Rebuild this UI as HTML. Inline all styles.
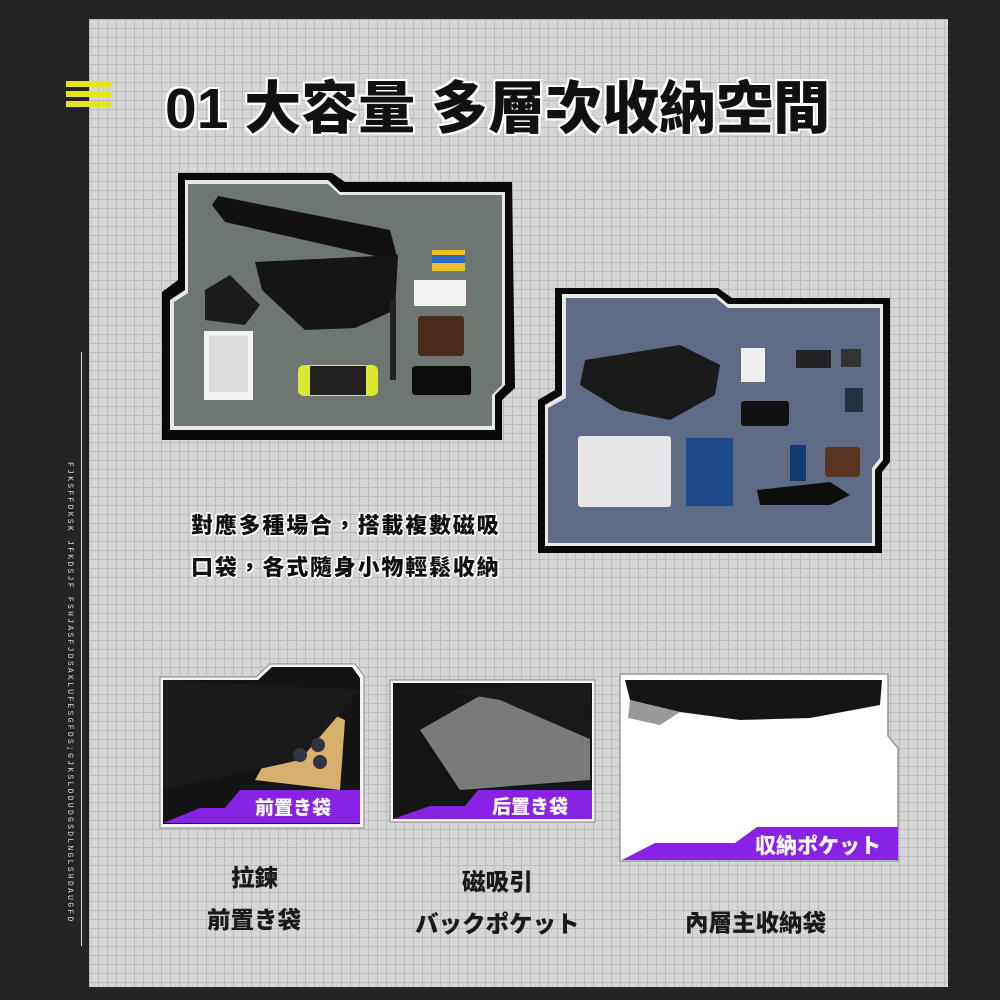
<!DOCTYPE html>
<html><head><meta charset="utf-8"><style>
body{margin:0;width:1000px;height:1000px;overflow:hidden;background:#242424;position:relative;font-family:"Liberation Sans","Noto Sans CJK TC",sans-serif}
#panel{position:absolute;left:89px;top:19px;width:859px;height:968px;background-color:#d6d6d6;
background-image:linear-gradient(#bcbcbc 1px,transparent 1px),linear-gradient(90deg,#bcbcbc 1px,transparent 1px);background-size:9px 9px}
.t{position:absolute;font-weight:900;color:#111;white-space:nowrap}
.title{left:165px;top:63px;font-size:57px;letter-spacing:0px;text-shadow:2px 0 #fff,-2px 0 #fff,0 2px #fff,0 -2px #fff,2px 2px #fff,-2px -2px #fff,2px -2px #fff,-2px 2px #fff}
.body{font-size:22px;letter-spacing:1.8px;text-shadow:1.5px 0 #fff,-1.5px 0 #fff,0 1.5px #fff,0 -1.5px #fff,1.5px 1.5px #fff,-1.5px -1.5px #fff}
.cap{font-size:23.5px;color:#1a1a1a}
.ban{position:absolute;color:#fff;font-weight:900;font-size:19px;white-space:nowrap}
#vt{position:absolute;left:58px;top:462px;transform-origin:0 0;transform:translate(16px,0) rotate(90deg);font-size:8px;color:#ddd;letter-spacing:2.3px;white-space:nowrap;font-family:"Liberation Mono",monospace}
</style></head><body>
<div id="panel"></div>
<div style="position:absolute;left:81px;top:352px;width:1px;height:594px;background:#ddd"></div>
<div id="vt">FJKSFFDKSK JFKDSJF FSHJASFJDSAKLUFESGFDS;GJKSLDDUDGSDLNGLSHDAUGFD</div>
<div style="position:absolute;left:66px;top:81px;width:45px;height:6px;background:#e5e51a"></div>
<div style="position:absolute;left:66px;top:91px;width:45px;height:6px;background:#e5e51a"></div>
<div style="position:absolute;left:66px;top:101px;width:45px;height:6px;background:#e5e51a"></div>
<svg width="1000" height="1000" style="position:absolute;left:0;top:0">
<polygon points="178,173 332,173 345,182 512,182 515,388 502,400 502,440 162,440 162,292 178,280" fill="#0a0a0a"/>
<polygon points="185,180 328,180 340,192 505,192 505,385 495,395 495,430 170,430 170,300 185,290" fill="#e8e8e8"/>
<polygon points="188,184 328,184 340,195 502,195 502,385 492,395 492,426 174,426 174,302 188,293" fill="#6d7670"/>
<path d="M212,205 L218,196 L390,230 L398,260 L392,275 L384,258 L225,222Z" fill="#111"/>
<path d="M255,262 L398,255 L395,310 L355,328 L305,330 L262,290Z" fill="#151515"/>
<path d="M205,290 L230,275 L260,305 L245,325 L205,320Z" fill="#1c1c1c"/>
<rect x="390" y="300" width="6" height="80" fill="#222"/>
<rect x="204" y="331" width="49" height="69" fill="#f2f2f2"/><rect x="209" y="336" width="39" height="56" fill="#ddd"/>
<rect x="298" y="365" width="80" height="31" rx="6" fill="#d9e830"/><rect x="310" y="366" width="56" height="29" fill="#222"/>
<rect x="414" y="280" width="52" height="26" fill="#f4f4f4"/>
<rect x="418" y="316" width="46" height="40" rx="3" fill="#4a2a1d"/>
<rect x="412" y="366" width="59" height="29" rx="3" fill="#0c0c0c"/>
<rect x="432" y="250" width="33" height="21" fill="#f0c020"/><rect x="432" y="255" width="33" height="8" fill="#2b6bc4"/>
<polygon points="555,288 718,288 732,298 890,298 890,462 882,472 882,553 538,553 538,400 555,390" fill="#0a0a0a"/>
<polygon points="562,294 716,294 728,304 883,304 883,460 875,470 875,546 545,546 545,405 562,395" fill="#e8e8e8"/>
<polygon points="566,298 716,298 728,308 880,308 880,458 872,468 872,543 548,543 548,408 566,398" fill="#5f6b85"/>
<path d="M585,360 L680,345 L720,365 L715,395 L670,420 L620,410 L580,385Z" fill="#1a1a1a"/>
<rect x="578" y="436" width="93" height="71" rx="3" fill="#e6e6e6"/>
<rect x="686" y="438" width="47" height="68" fill="#1e4a8a"/>
<rect x="741" y="348" width="24" height="34" fill="#eee"/>
<rect x="741" y="401" width="48" height="25" rx="3" fill="#111"/>
<rect x="796" y="350" width="35" height="18" fill="#222"/><rect x="841" y="349" width="20" height="18" fill="#333"/>
<rect x="825" y="447" width="35" height="30" rx="3" fill="#5a3522"/>
<path d="M757,490 L830,482 L850,495 L830,505 L760,505Z" fill="#0d0d0d"/>
<rect x="790" y="445" width="16" height="36" fill="#153a70"/>
<rect x="845" y="388" width="18" height="24" fill="#253040"/>
<polygon points="160,677 256,677 270,664 355,664 364,676 364,828 160,828" fill="#f4f4f4" stroke="#888" stroke-width="1"/>
<polygon points="163,680 258,680 272,667 352,667 360,678 360,824 163,824" fill="#141414"/>
<path d="M255,780 L300,700 L345,720 L340,790Z" fill="#d6b06c"/>
<path d="M163,680 L360,690 L300,760 L163,790Z" fill="#1a1a1a"/>
<circle cx="300" cy="755" r="7" fill="#334"/><circle cx="318" cy="745" r="7" fill="#334"/><circle cx="320" cy="762" r="7" fill="#334"/>
<polygon points="163,823 200,808 225,808 240,790 360,790 360,823" fill="#8a22e6"/>
<polygon points="390,680 595,680 595,822 390,822" fill="#f4f4f4" stroke="#888" stroke-width="1"/>
<rect x="393" y="683" width="199" height="136" fill="#151515"/>
<path d="M420,730 L490,690 L590,720 L590,780 L460,790Z" fill="#7a7a7a"/>
<path d="M440,690 L590,683 L592,740 L500,700Z" fill="#1a1a1a"/>
<polygon points="393,819 430,806 465,806 478,790 592,790 592,819" fill="#8a22e6"/>
<polygon points="620,674 888,674 888,736 898,748 898,861 620,861" fill="#fff" stroke="#999" stroke-width="1.5"/>
<path d="M625,680 L882,680 L880,705 L810,718 L740,720 L680,712 L630,700Z" fill="#151515"/>
<path d="M630,700 L680,712 L660,725 L628,718Z" fill="#999"/>
<polygon points="622,860 655,843 735,843 757,827 898,827 898,860" fill="#8a22e6"/>
</svg>
<div class="t title">01 大容量 多層次收納空間</div>
<div class="t body" style="left:191px;top:508px">對應多種場合，搭載複數磁吸</div>
<div class="t body" style="left:191px;top:550px">口袋，各式隨身小物輕鬆收納</div>
<div class="ban" style="left:255px;top:793px">前置き袋</div>
<div class="ban" style="left:492px;top:792px">后置き袋</div>
<div class="ban" style="left:755px;top:830px;font-size:21px">収納ポケット</div>
<div class="t cap" style="left:231px;top:859px">拉鍊</div>
<div class="t cap" style="left:207px;top:901px">前置き袋</div>
<div class="t cap" style="left:462px;top:863px">磁吸引</div>
<div class="t cap" style="left:415px;top:905px">バックポケット</div>
<div class="t cap" style="left:685px;top:904px">內層主收納袋</div>
</body></html>
